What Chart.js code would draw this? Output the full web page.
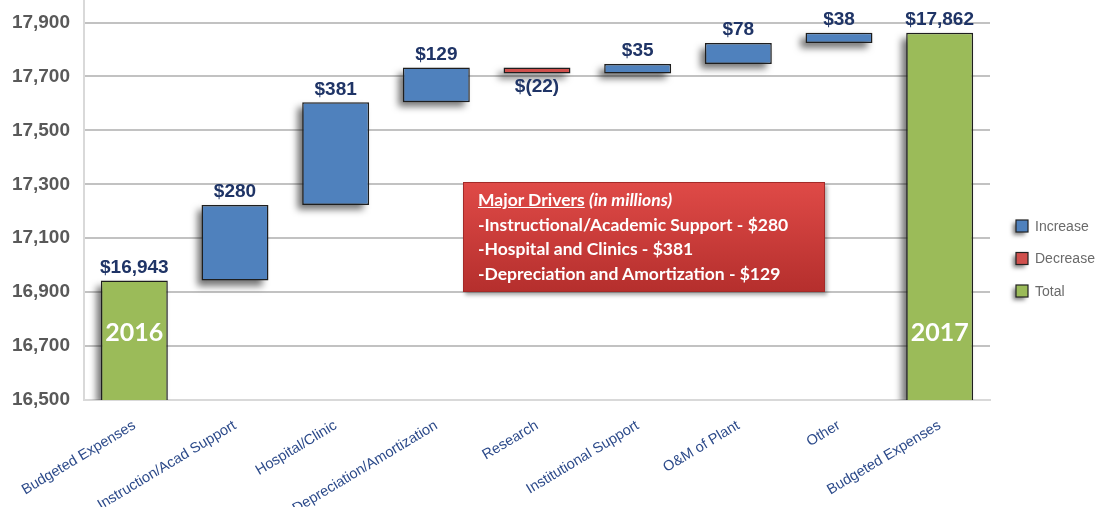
<!DOCTYPE html>
<html>
<head>
<meta charset="utf-8">
<script src="https://cdn.jsdelivr.net/npm/chart.js@4/dist/chart.umd.min.js"></script>
<style>
  html, body { margin: 0; padding: 0; background: #ffffff; }
  #wrap { position: relative; width: 1102px; height: 507px; overflow: hidden; }
  #c { position: absolute; left: 0; top: 0; }
  #note {
    position: absolute; left: 463px; top: 182px; width: 346px; height: 103px;
    padding: 5px 0 0 14px;
    background: linear-gradient(#df4a47, #b52f2d);
    border: 1px solid #a32a28;
    box-shadow: 2px 3px 4px rgba(0,0,0,0.35);
    color: #ffffff; font-family: Lato, "Open Sans", sans-serif; font-weight: bold;
    font-size: 17.5px; line-height: 24.5px; white-space: nowrap;
  }
  #note u { text-decoration: underline; }
</style>
</head>
<body>
<div id="wrap">
  <canvas id="c" width="1102" height="507"></canvas>
  <div id="note">
    <div><u>Major Drivers</u> <i>(in millions)</i></div>
    <div>-Instructional/Academic Support - $280</div>
    <div>-Hospital and Clinics - $381</div>
    <div>-Depreciation and Amortization - $129</div>
  </div>
</div>
<script>
// ---- data ----
const categories = ['Budgeted Expenses', 'Instruction/Acad Support', 'Hospital/Clinic',
  'Depreciation/Amortization', 'Research', 'Institutional Support', 'O&M of Plant', 'Other',
  'Budgeted Expenses'];
const startTotal = 16943;
const changes = [280, 381, 129, -22, 35, 78, 38];
const endTotal = 17862;
const totalYears = ['2016', '2017'];
const yTickValues = [16500, 16700, 16900, 17100, 17300, 17500, 17700, 17900];
const legendItems = ['Increase', 'Decrease', 'Total'];

// ---- build waterfall ----
const COLORS = { increase: '#4f81bd', decrease: '#d0504d', total: '#9bbb59' };
const barData = [];
const kinds = [];
const labelTexts = [];
barData.push(startTotal); kinds.push('total'); labelTexts.push('$' + startTotal.toLocaleString('en-US'));
let running = startTotal;
changes.forEach(d => {
  barData.push([running, running + d]);
  kinds.push(d >= 0 ? 'increase' : 'decrease');
  labelTexts.push(d >= 0 ? '$' + d : '$(' + Math.abs(d) + ')');
  running += d;
});
barData.push(endTotal); kinds.push('total'); labelTexts.push('$' + endTotal.toLocaleString('en-US'));

// drop shadow drawn behind each bar (bar element clips its own drawing)
const shadowPlugin = {
  id: 'shadow',
  beforeDatasetDraw(chart) {
    const ctx = chart.ctx;
    const area = chart.chartArea;
    const meta = chart.getDatasetMeta(0);
    const FAR = 3000;
    ctx.save();
    ctx.beginPath();
    ctx.rect(0, area.top - 20, area.right + 20, area.bottom - area.top + 20);
    ctx.clip();
    ctx.shadowColor = 'rgba(0,0,0,0.55)';
    ctx.shadowBlur = 7;
    ctx.shadowOffsetX = -5 - FAR;
    ctx.shadowOffsetY = 5;
    ctx.fillStyle = '#000';
    meta.data.forEach(bar => {
      const top = Math.min(bar.y, bar.base);
      const bottom = Math.min(Math.max(bar.y, bar.base), area.bottom);
      ctx.fillRect(bar.x - bar.width / 2 + FAR, top, bar.width, bottom - top);
    });
    ctx.restore();
  }
};

const labelPlugin = {
  id: 'labels',
  afterDatasetsDraw(chart) {
    const ctx = chart.ctx;
    const meta = chart.getDatasetMeta(0);
    ctx.save();
    ctx.textAlign = 'center';
    ctx.textBaseline = 'middle';
    let yi = 0;
    meta.data.forEach((bar, i) => {
      const top = Math.min(bar.y, bar.base);
      const bottom = Math.max(bar.y, bar.base);
      ctx.font = 'bold 19px Arial, "Liberation Sans", sans-serif';
      ctx.fillStyle = '#1f3466';
      if (kinds[i] === 'decrease') ctx.fillText(labelTexts[i], bar.x, bottom + 13.5);
      else ctx.fillText(labelTexts[i], bar.x, top - 13);
      if (kinds[i] === 'total') {
        ctx.font = 'bold 25px Lato, "Open Sans", sans-serif';
        ctx.fillStyle = '#ffffff';
        ctx.fillText(totalYears[yi++], bar.x, chart.chartArea.bottom - 67);
      }
    });
    ctx.restore();
  }
};

const legendPlugin = {
  id: 'customLegend',
  afterDraw(chart) {
    const ctx = chart.ctx;
    const cols = [COLORS.increase, COLORS.decrease, COLORS.total];
    legendItems.forEach((t, i) => {
      const y = 226 + i * 32.5;
      ctx.save();
      ctx.shadowColor = 'rgba(0,0,0,0.5)';
      ctx.shadowBlur = 4; ctx.shadowOffsetX = -3; ctx.shadowOffsetY = 3;
      ctx.fillStyle = cols[i];
      ctx.fillRect(1016, y - 6, 12, 12);
      ctx.restore();
      ctx.save();
      ctx.strokeStyle = '#222';
      ctx.lineWidth = 1.2;
      ctx.strokeRect(1016, y - 6, 12, 12);
      ctx.font = '14px Arial, "Liberation Sans", sans-serif';
      ctx.fillStyle = '#6a6a6a';
      ctx.textAlign = 'left';
      ctx.textBaseline = 'middle';
      ctx.fillText(t, 1035, y + 1);
      ctx.restore();
    });
  }
};

new Chart(document.getElementById('c'), {
  type: 'bar',
  data: {
    labels: categories,
    datasets: [{
      data: barData,
      backgroundColor: kinds.map(k => COLORS[k]),
      borderColor: '#1e1e1e',
      borderWidth: 1.5,
      borderSkipped: false,
      barPercentage: 0.665,
      categoryPercentage: 1.0
    }]
  },
  options: {
    responsive: false,
    animation: false,
    devicePixelRatio: 1,
    layout: { padding: { top: 1, right: 112, left: 0, bottom: 0 } },
    plugins: { legend: { display: false }, tooltip: { enabled: false } },
    scales: {
      x: {
        grid: { display: false, drawTicks: false },
        border: { display: true, color: '#d9d9d9', width: 2 },
        ticks: {
          minRotation: 31, maxRotation: 31, autoSkip: false, padding: 17,
          color: '#2c4a8a',
          font: { family: 'Arial, "Liberation Sans", sans-serif', size: 14.5 }
        },
        afterFit(s) { s.height = 107; s.paddingLeft = 0; s.paddingRight = 0; }
      },
      y: {
        min: 16500, max: 17980,
        afterBuildTicks(s) { s.ticks = yTickValues.map(v => ({ value: v })); },
        grid: { color: '#c2c2c2', lineWidth: 2, drawTicks: false },
        border: { display: true, color: '#d9d9d9', width: 2 },
        ticks: {
          padding: 14, color: '#595959',
          font: { family: 'Arial, "Liberation Sans", sans-serif', size: 19, weight: 'bold' },
          callback: v => v.toLocaleString('en-US')
        },
        afterFit(s) { s.width = 84; s.paddingTop = 0; s.paddingBottom = 0; }
      }
    }
  },
  plugins: [shadowPlugin, labelPlugin, legendPlugin]
});
</script>
</body>
</html>
